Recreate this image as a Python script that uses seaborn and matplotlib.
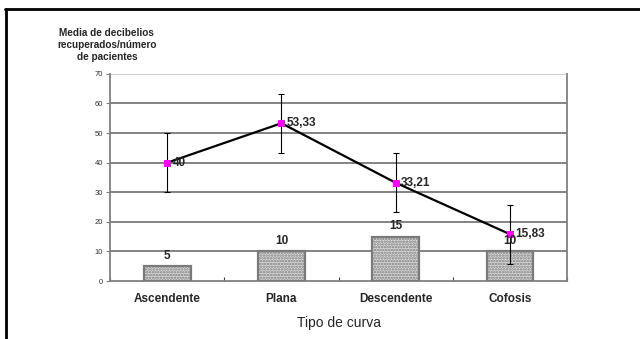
import matplotlib
matplotlib.use('Agg')
import matplotlib.pyplot as plt
import seaborn as sns
import numpy as np
from matplotlib.lines import Line2D

sns.set_style('white')
plt.rcParams['font.family'] = ['Liberation Sans', 'DejaVu Sans']
plt.rcParams['hatch.linewidth'] = 1.2

# datos
tipos = ['Ascendente', 'Plana', 'Descendente', 'Cofosis']
pacientes = [5, 10, 15, 10]
media_db = [40, 53.33, 33.21, 15.83]
error_db = [10, 10, 10, 10]
etiq_media = ['40', '53,33', '33,21', '15,83']
etiq_pac = ['5', '10', '15', '10']

fig = plt.figure(figsize=(6.4, 3.39), dpi=100)
ax = fig.add_axes([0.172, 0.171, 0.714, 0.611])

pos = np.arange(len(tipos))

# barras (numero de pacientes)
sns.barplot(x=pos, y=pacientes, ax=ax, width=0.41, color='#d0d0d0',
            edgecolor='#7a7a7a', linewidth=1.6, hatch='......', native_scale=True,
            zorder=3)
for p in ax.patches:
    p.set_facecolor('#dcdcdc')

# linea de medias
ax.errorbar(pos, media_db, yerr=error_db, fmt='none', ecolor='black',
            elinewidth=0.8, capsize=2.2, capthick=0.8, zorder=4)
sns.lineplot(x=pos, y=media_db, ax=ax, color='black', linewidth=1.6,
             marker='s', markersize=5, markerfacecolor='#ff00ff',
             markeredgecolor='#ff00ff', zorder=5)

for i in range(len(tipos)):
    ax.annotate(etiq_media[i], (pos[i], media_db[i]), xytext=(4, 0),
                textcoords='offset points', ha='left', va='center',
                fontsize=8.5, fontweight='bold', zorder=6)
    ax.annotate(etiq_pac[i], (pos[i], pacientes[i]), xytext=(0, 7.5),
                textcoords='offset points', ha='center', va='center',
                fontsize=8.5, fontweight='bold', zorder=6)

ax.set_xlim(-0.5, 3.5)
ax.set_ylim(0, 70)
ax.set_yticks(range(0, 71, 10))
ax.tick_params(axis='y', labelsize=5.5, length=3, width=0.8, color='#808080',
               labelcolor='#333333', pad=2, left=True, direction='out')

ax.set_xticks(np.arange(-0.5, 3.6, 1))
ax.set_xticklabels([])
ax.tick_params(axis='x', which='major', length=3, width=0.8, color='#404040',
               bottom=True, direction='in')
ax.set_xticks(pos, minor=True)
ax.set_xticklabels(tipos, minor=True, fontsize=8.5, fontweight='bold')
ax.tick_params(axis='x', which='minor', length=0, pad=8.5)

for v in range(10, 70, 10):
    ax.axhline(v, color='#6e6e6e', linewidth=1.2, zorder=1)
ax.axhline(70, color='#c8c8c8', linewidth=1.2, zorder=1)

for s in ['left', 'bottom', 'right']:
    ax.spines[s].set_color('#808080')
    ax.spines[s].set_linewidth(1.3)
ax.spines['top'].set_visible(False)

ax.set_xlabel('Tipo de curva', fontsize=10, labelpad=8)
ax.set_ylabel('')

fig.text(0.167, 0.867, 'Media de decibelios\nrecuperados/número\nde pacientes',
         ha='center', va='center', fontsize=7.2, fontweight='bold',
         linespacing=1.3)

# marco
fig.add_artist(Line2D([0.009, 0.009], [0, 0.973], color='black', linewidth=2))
fig.add_artist(Line2D([0.008, 1], [0.973, 0.973], color='black', linewidth=2))

fig.savefig('out.png', dpi=100)
